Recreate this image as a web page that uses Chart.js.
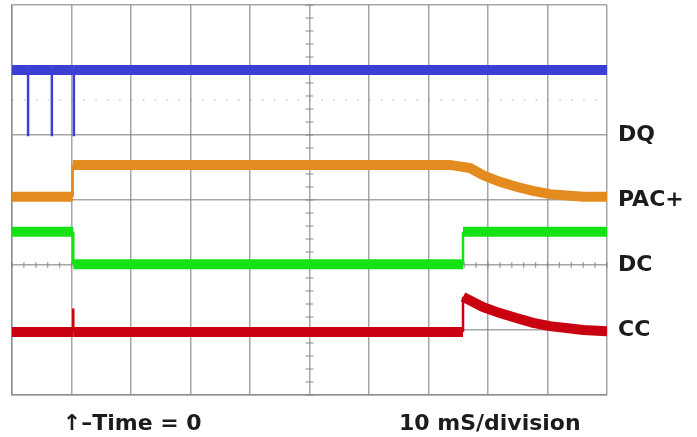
<!DOCTYPE html>
<html>
<head>
<meta charset="utf-8">
<script src="https://cdn.jsdelivr.net/npm/chart.js@4/dist/chart.umd.min.js"></script>
<style>
html,body{margin:0;padding:0;background:#fff;}
#wrap{width:697px;height:437px;position:relative;}
</style>
</head>
<body>
<div id="wrap"><canvas id="c"></canvas></div>
<script>
// Time in ms (10 ms / division), vertical position in divisions (0 = bottom, 6 = top)
const dqT  = [-10, -7.3, -7.3, -7.3, -3.3, -3.3, -3.3, 0.4, 0.4, 0.4, 90];
const dqV  = [5, 5, 3.98, 5, 5, 3.98, 5, 5, 3.98, 5, 5];
const pacT = [-10, 0.2, 0.2, 63.6, 67.0, 69.2, 72.0, 74.9, 77.6, 80.4, 86.0, 90];
const pacV = [3.05, 3.05, 3.54, 3.54, 3.49, 3.38, 3.28, 3.2, 3.14, 3.09, 3.05, 3.05];
const dcT  = [-10, 0.3, 0.3, 65.8, 65.8, 90];
const dcV  = [2.51, 2.51, 2.01, 2.01, 2.51, 2.51];
const ccT  = [-10, 0.3, 0.3, 0.3, 65.8, 65.8, 69.2, 72.0, 74.9, 77.6, 80.4, 86.0, 90];
const ccV  = [0.97, 0.97, 1.33, 0.97, 0.97, 1.51, 1.35, 1.26, 1.18, 1.11, 1.06, 1.0, 0.98];

const channelLabels = ['DQ', 'PAC+', 'DC', 'CC'];
const channelLevels = [4, 3, 2, 1];
const bottomLabels  = ['↑–Time = 0', '10 mS/division'];
const bottomLabelAt = [10.2, 70.3];

const xMin = -10, xMax = 90, xStep = 10;
const yMin = 0, yMax = 6;

function pts(t, v){ return t.map((x,i)=>({x:x, y:v[i]})); }

const thinVertical = {
  borderWidth: ctx => (ctx.p0.parsed.x === ctx.p1.parsed.x ? 2.5 : 10)
};

const gridColor = 'rgba(130,130,130,0.72)';

function noPad(s){ s.paddingTop = 0; s.paddingBottom = 0; s.paddingLeft = 0; s.paddingRight = 0; }

const scopeMarks = {
  id: 'scopeMarks',
  beforeDatasetsDraw(chart){
    const {ctx, chartArea:a, scales:{x, y}} = chart;
    ctx.save();
    ctx.strokeStyle = gridColor;
    ctx.lineWidth = 1.3;
    const cx = x.getPixelForValue(40);
    for (let v = yMin; v <= yMax + 1e-6; v += 0.2){
      const py = y.getPixelForValue(v);
      ctx.beginPath(); ctx.moveTo(cx-4, py); ctx.lineTo(cx+4, py); ctx.stroke();
    }
    const ry = y.getPixelForValue(2);
    for (let t = xMin; t <= xMax + 1e-6; t += 2){
      const px = x.getPixelForValue(t);
      ctx.beginPath(); ctx.moveTo(px, ry-3); ctx.lineTo(px, ry+3); ctx.stroke();
    }
    ctx.strokeStyle = 'rgba(150,150,150,0.6)';
    ctx.setLineDash([1.5, 10.4]);
    const dy = y.getPixelForValue(4.54);
    ctx.beginPath(); ctx.moveTo(a.left, dy); ctx.lineTo(a.right, dy); ctx.stroke();
    ctx.restore();
  }
};

new Chart(document.getElementById('c'), {
  type: 'line',
  data: {
    datasets: [
      {label:'DQ',   data: pts(dqT, dqV),   borderColor:'#3b3fd2', segment: thinVertical, borderWidth:10},
      {label:'PAC+', data: pts(pacT, pacV), borderColor:'#e38b1f', segment: thinVertical, borderWidth:10},
      {label:'DC',   data: pts(dcT, dcV),   borderColor:'#14e214', segment: thinVertical, borderWidth:10},
      {label:'CC',   data: pts(ccT, ccV),   borderColor:'#c8000f', segment: thinVertical, borderWidth:10}
    ]
  },
  options: {
    responsive: true,
    maintainAspectRatio: false,
    animation: false,
    layout: {padding: {left: 12, top: 5, right: 0, bottom: 0}},
    elements: {point: {radius: 0}, line: {tension: 0, borderCapStyle: 'butt', borderJoinStyle: 'miter'}},
    plugins: {legend: {display: false}, tooltip: {enabled: false}},
    scales: {
      x: {
        type: 'linear', min: xMin, max: xMax, position: 'bottom', weight: 0,
        ticks: {display: false, stepSize: xStep},
        grid: {color: gridColor, lineWidth: 1.5, drawTicks: false},
        border: {display: true, color: gridColor, width: 1.5},
        afterFit: s => { s.height = 0; noPad(s); }
      },
      x2: {
        type: 'linear', min: xMin, max: xMax, position: 'bottom', weight: 1,
        grid: {display: false, drawTicks: false},
        border: {display: false},
        afterBuildTicks: s => { s.ticks = bottomLabelAt.map(v => ({value: v})); },
        ticks: {
          autoSkip: false, maxRotation: 0, padding: 16,
          color: '#1c1c1c',
          font: {family: 'DejaVu Sans', weight: 'bold', size: 22},
          callback: (v, i) => bottomLabels[i]
        },
        afterFit: s => { s.height = 42; noPad(s); }
      },
      y: {
        type: 'linear', min: yMin, max: yMax, position: 'left',
        ticks: {display: false, stepSize: 1},
        grid: {color: gridColor, lineWidth: 1.5, drawTicks: false},
        border: {display: true, color: gridColor, width: 1.5},
        afterFit: s => { s.width = 0; noPad(s); }
      },
      y2: {
        type: 'linear', min: yMin, max: yMax, position: 'right',
        grid: {display: false, drawTicks: false},
        border: {display: false},
        afterBuildTicks: s => { s.ticks = channelLevels.map(v => ({value: v})); },
        ticks: {
          autoSkip: false, padding: 11, crossAlign: 'near',
          color: '#1c1c1c',
          font: {family: 'DejaVu Sans', weight: 'bold', size: 22},
          callback: (v, i) => channelLabels[i]
        },
        afterFit: s => { s.width = 90; noPad(s); }
      }
    }
  },
  plugins: [scopeMarks]
});
</script>
</body>
</html>
